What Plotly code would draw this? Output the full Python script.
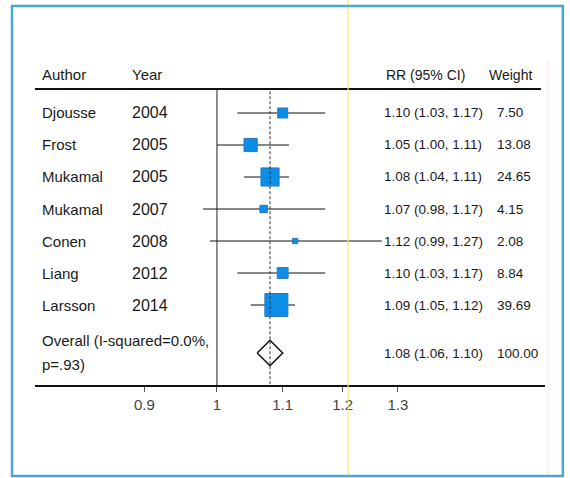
import plotly.graph_objects as go

authors = ["Djousse", "Frost", "Mukamal", "Mukamal", "Conen", "Liang", "Larsson"]
years = ["2004", "2005", "2005", "2007", "2008", "2012", "2014"]
rr = [1.10, 1.05, 1.08, 1.07, 1.12, 1.10, 1.09]
ci_low = [1.03, 1.00, 1.04, 0.98, 0.99, 1.03, 1.05]
ci_high = [1.17, 1.11, 1.11, 1.17, 1.27, 1.17, 1.12]
weights = [7.50, 13.08, 24.65, 4.15, 2.08, 8.84, 39.69]
rr_labels = ["1.10 (1.03, 1.17)", "1.05 (1.00, 1.11)", "1.08 (1.04, 1.11)",
             "1.07 (0.98, 1.17)", "1.12 (0.99, 1.27)", "1.10 (1.03, 1.17)",
             "1.09 (1.05, 1.12)"]
weight_labels = ["7.50", "13.08", "24.65", "4.15", "2.08", "8.84", "39.69"]
overall_rr = 1.08
overall_low = 1.06
overall_high = 1.10
overall_label = "1.08 (1.06, 1.10)"
overall_weight = "100.00"
tick_vals = [0.9, 1, 1.1, 1.2, 1.3]
tick_text = ["0.9", "1", "1.1", "1.2", "1.3"]

rows = list(range(1, len(authors) + 1))
overall_row = 8.5

FONT = "Liberation Sans, Arial, sans-serif"
BLUE = "#0A8EE8"

fig = go.Figure()

# CI lines
cx, cy = [], []
for lo, hi, r in zip(ci_low, ci_high, rows):
    cx += [lo, hi, None]
    cy += [r, r, None]
fig.add_trace(go.Scatter(x=cx, y=cy, mode="lines",
                         line=dict(color="#111111", width=1.2), hoverinfo="skip"))

# squares
sizes = [3.65 * (w ** 0.5) for w in weights]
fig.add_trace(go.Scatter(x=rr, y=rows, mode="markers",
                         marker=dict(symbol="square", size=sizes, color=BLUE, opacity=1,
                                     line=dict(width=1, color="#2A78BE"))))

# diamond
fig.add_trace(go.Scatter(
    x=[overall_low, overall_rr, overall_high, overall_rr, overall_low],
    y=[overall_row, overall_row - 0.4, overall_row, overall_row + 0.4, overall_row],
    mode="lines", fill="toself", fillcolor="white",
    line=dict(color="#111111", width=1.5)))

shapes = []
# reference line at 1
shapes.append(dict(type="line", xref="x", yref="y", x0=1, x1=1, y0=0.25, y1=9.5,
                   line=dict(color="#222222", width=1)))
# dashed overall line
shapes.append(dict(type="line", xref="x", yref="y", x0=overall_rr, x1=overall_rr,
                   y0=0.32, y1=9.5, line=dict(color="#333333", width=1, dash="3px,2px")))
# header rule
shapes.append(dict(type="line", xref="paper", yref="y", x0=0, x1=0.992, y0=0.25, y1=0.25,
                   line=dict(color="#111111", width=2)))
# scan artifacts
shapes.append(dict(type="line", xref="paper", yref="paper", x0=0.614, x1=0.614,
                   y0=-0.29, y1=1.19, line=dict(color="rgba(240,240,120,0.8)", width=1.5)))
shapes.append(dict(type="line", xref="paper", yref="paper", x0=1.006, x1=1.006,
                   y0=-0.28, y1=1.0, line=dict(color="rgba(240,200,210,0.5)", width=1)))
# outer frame
shapes.append(dict(type="rect", xref="paper", yref="paper", x0=-0.0451, x1=1.035,
                   y0=-0.28, y1=1.166, line=dict(color="#4AA6D6", width=2.5)))

ann = []
def px2paper(px):
    return (px - 35) / 510

hdr_y = -0.19
ann.append(dict(x=px2paper(40), y=hdr_y, text="Author"))
ann.append(dict(x=px2paper(130), y=hdr_y, text="Year"))
ann.append(dict(x=px2paper(384), y=hdr_y, text="RR (95% CI)", size=14))
ann.append(dict(x=px2paper(487), y=hdr_y, text="Weight", size=14))
for r, a, yv, lab, w in zip(rows, authors, years, rr_labels, weight_labels):
    ann.append(dict(x=px2paper(40), y=r, text=a))
    ann.append(dict(x=px2paper(130), y=r, text=yv, size=16))
    ann.append(dict(x=px2paper(382), y=r, text=lab, size=13.5))
    ann.append(dict(x=px2paper(495), y=r, text=w, size=13.5))
ann.append(dict(x=px2paper(40), y=overall_row - 0.38, text="Overall (I-squared=0.0%,", size=15))
ann.append(dict(x=px2paper(40), y=overall_row + 0.35, text="p=.93)", size=15))
ann.append(dict(x=px2paper(382), y=overall_row, text=overall_label, size=13.5))
ann.append(dict(x=px2paper(495), y=overall_row, text=overall_weight, size=13.5))

annotations = []
for a in ann:
    annotations.append(dict(x=a["x"], y=a["y"], xref="paper", yref="y", text=a["text"],
                            showarrow=False, xanchor="left", yanchor="middle",
                            font=dict(family=FONT, size=a.get("size", 15), color="#1a1a1a")))

fig.update_layout(
    width=570, height=478,
    margin=dict(l=35, r=25, t=60, b=93),
    paper_bgcolor="white", plot_bgcolor="white",
    showlegend=False,
    shapes=shapes,
    annotations=annotations,
    xaxis=dict(type="log", range=[-0.1146, 0.2066], tickvals=tick_vals, ticktext=tick_text,
               showline=True, linecolor="#111111", linewidth=2, ticks="outside",
               ticklen=5, tickcolor="#555555", showgrid=False, zeroline=False,
               tickfont=dict(family=FONT, size=15, color="#444444"), fixedrange=True),
    yaxis=dict(range=[9.5, -0.656], showticklabels=False, showgrid=False, zeroline=False,
               showline=False, ticks="", fixedrange=True),
)

fig.write_html("out.html", config={"displayModeBar": False},
               post_script="document.body.style.margin='0';document.body.style.padding='0';")
